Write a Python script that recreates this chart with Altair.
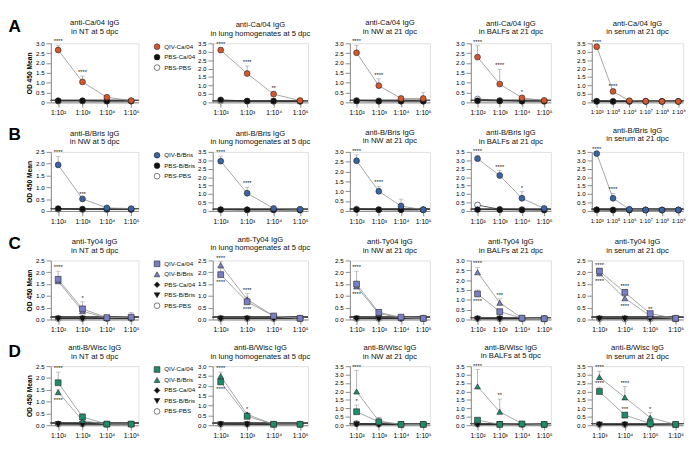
import altair as alt
import pandas as pd

FONT = "Liberation Sans"
CUTOFF = 0.1

X4 = ["1:10²", "1:10³", "1:10⁴", "1:10⁵"]
X6 = ["1:10³", "1:10⁵", "1:10⁶", "1:10⁷", "1:10⁸", "1:10⁹"]
XS = ["1:10³", "1:10⁴", "1:10⁵", "1:10⁶"]

SITES = ["in NT at 5 dpc", "in lung homogenates at 5 dpc", "in NW at 21 dpc",
         "in BALFs at 21 dpc", "in serum at 21 dpc"]
SITES_B = ["in NW at 5 dpc", "in lung homogenates at 5 dpc", "in NW at 21 dpc",
           "in BALFs at 21 dpc", "in serum at 21 dpc"]
SITES_D = ["in NT at 5 dpc", "in lung homogenates at 5 dpc", "in NW at 21 dpc",
           "in BALFs at 5 dpc", "in serum at 21 dpc"]

# ---------------- Row A : anti-Ca/04 IgG ----------------
A_X = [X4, X4, X4, X4, X6]
A_YMAX = [3.0, 3.5, 3.0, 3.0, 3.5]
A_QIV = [[2.66, 1.04, 0.26, 0.09],
         [3.10, 1.71, 0.49, 0.11],
         [2.52, 0.85, 0.20, 0.20],
         [2.30, 0.93, 0.23, 0.10],
         [3.30, 0.65, 0.10, 0.07, 0.06, 0.06]]
A_QIV_ERR = [[0.24, 0.30, 0.04, 0.02],
             [0.15, 0.45, 0.16, 0.02],
             [0.38, 0.35, 0.04, 0.30],
             [0.58, 0.75, 0.12, 0.03],
             [0.06, 0.06, 0.02, 0.01, 0.01, 0.01]]
A_QIV_STARS = [["****", "****", "", ""],
               ["****", "****", "**", ""],
               ["****", "****", "", ""],
               ["****", "****", "*", ""],
               ["****", "****", "", "", "", ""]]
A_PBS = [[0.08, 0.08, 0.07, 0.07],
         [0.15, 0.08, 0.08, 0.07],
         [0.07, 0.06, 0.06, 0.06],
         [0.08, 0.07, 0.06, 0.06],
         [0.07, 0.06, 0.06, 0.06, 0.06, 0.06]]
A_PBSPBS = [[0.07, 0.07, 0.06, 0.06],
            [0.08, 0.07, 0.06, 0.06],
            [0.10, 0.08, 0.07, 0.07],
            [0.17, 0.10, 0.07, 0.06],
            [0.06, 0.05, 0.05, 0.05, 0.05, 0.05]]

# ---------------- Row B : anti-B/Bris IgG ----------------
B_X = [X4, X4, X4, X4, X6]
B_YMAX = [2.5, 3.5, 3.0, 3.5, 3.5]
B_QIV = [[1.95, 0.51, 0.13, 0.10],
         [2.95, 1.05, 0.15, 0.10],
         [2.55, 1.00, 0.25, 0.06],
         [3.10, 2.10, 0.75, 0.15],
         [3.40, 0.75, 0.10, 0.06, 0.06, 0.06]]
B_QIV_ERR = [[0.36, 0.06, 0.03, 0.02],
             [0.30, 0.35, 0.05, 0.02],
             [0.30, 0.25, 0.35, 0.02],
             [0.20, 0.30, 0.40, 0.05],
             [0.06, 0.30, 0.03, 0.01, 0.01, 0.01]]
B_QIV_STARS = [["****", "***", "", ""],
               ["****", "****", "", ""],
               ["****", "****", "", ""],
               ["****", "****", "*", ""],
               ["****", "****", "", "", "", ""]]
B_PBS = [[0.10, 0.08, 0.08, 0.07],
         [0.08, 0.07, 0.07, 0.06],
         [0.07, 0.06, 0.06, 0.06],
         [0.08, 0.07, 0.06, 0.06],
         [0.07, 0.06, 0.06, 0.06, 0.06, 0.06]]
B_PBSPBS = [[0.07, 0.06, 0.06, 0.06],
            [0.07, 0.06, 0.06, 0.06],
            [0.10, 0.07, 0.06, 0.06],
            [0.35, 0.10, 0.08, 0.06],
            [0.06, 0.05, 0.05, 0.05, 0.05, 0.05]]
B_PBSPBS_ERR = [[0, 0, 0, 0], [0, 0, 0, 0], [0, 0, 0, 0],
                [0.15, 0, 0, 0], [0, 0, 0, 0, 0, 0]]

# ---------------- Row C : anti-Ty04 IgG ----------------
C_X = [X4, X4, X4, X4, XS]
C_YMAX = [2.5, 2.5, 2.5, 3.0, 2.5]
C_SQ = [[1.70, 0.45, 0.08, 0.10],
        [1.90, 0.75, 0.15, 0.05],
        [1.50, 0.30, 0.10, 0.05],
        [1.30, 0.40, 0.07, 0.04],
        [2.05, 1.15, 0.25, 0.05]]
C_SQ_ERR = [[0.35, 0.30, 0.03, 0.20],
            [0.25, 0.20, 0.03, 0.02],
            [0.55, 0.10, 0.03, 0.02],
            [0.20, 0.10, 0.02, 0.02],
            [0.10, 0.12, 0.05, 0.02]]
C_SQ_STARS = [["****", "*", "", ""],
              ["****", "****", "", ""],
              ["****", "", "", ""],
              ["****", "***", "", ""],
              ["****", "****", "**", ""]]
C_SQ_POS = ["a", "b", "a", "b", "a"]
C_TRI = [[1.62, 0.35, 0.06, 0.12],
         [2.30, 0.85, 0.15, 0.05],
         [1.40, 0.25, 0.08, 0.05],
         [2.40, 0.85, 0.08, 0.05],
         [1.95, 0.90, 0.15, 0.04]]
C_TRI_ERR = [[0.20, 0.10, 0.02, 0.05],
             [0.15, 0.25, 0.03, 0.02],
             [0.10, 0.10, 0.02, 0.02],
             [0.25, 0.20, 0.02, 0.02],
             [0.05, 0.10, 0.05, 0.02]]
C_TRI_STARS = [["", "", "", ""],
               ["****", "****", "", ""],
               ["****", "", "", ""],
               ["****", "***", "", ""],
               ["****", "****", "", ""]]
C_TRI_POS = ["b", "a", "b", "a", "b"]
C_PBS_CA = [[0.05, 0.05, 0.05, 0.05]] * 5
C_PBS_BR = [[0.04, 0.04, 0.04, 0.04]] * 5
C_PBSPBS = [[0.04, 0.04, 0.04, 0.04]] * 4 + [[0.03, 0.03, 0.03, 0.03]]

# ---------------- Row D : anti-B/Wisc IgG ----------------
D_X = [X4, X4, X4, X4, XS]
D_YMAX = [2.5, 3.0, 3.5, 3.5, 3.5]
D_SQ = [[1.80, 0.35, 0.05, 0.05],
        [2.20, 0.45, 0.05, 0.05],
        [0.80, 0.20, 0.05, 0.05],
        [0.30, 0.05, 0.08, 0.05],
        [2.00, 0.60, 0.10, 0.05]]
D_SQ_ERR = [[0.45, 0.15, 0.02, 0.02],
            [0.20, 0.10, 0.02, 0.02],
            [0.40, 0.25, 0.02, 0.02],
            [0.08, 0.02, 0.02, 0.02],
            [0.25, 0.15, 0.03, 0.02]]
D_SQ_STARS = [["****", "", "", ""],
              ["****", "", "", ""],
              ["*", "", "", ""],
              ["", "", "", ""],
              ["****", "***", "", ""]]
D_SQ_POS = ["a", "b", "a", "a", "a"]
D_TRI = [[1.40, 0.20, 0.04, 0.05],
         [2.50, 0.55, 0.05, 0.05],
         [2.00, 0.25, 0.05, 0.05],
         [2.30, 0.80, 0.10, 0.05],
         [2.85, 1.65, 0.45, 0.05]]
D_TRI_ERR = [[0.10, 0.05, 0.01, 0.01],
             [0.20, 0.10, 0.02, 0.02],
             [1.25, 0.20, 0.02, 0.02],
             [1.00, 0.75, 0.03, 0.02],
             [0.35, 0.65, 0.30, 0.02]]
D_TRI_STARS = [["****", "", "", ""],
               ["****", "*", "", ""],
               ["****", "", "", ""],
               ["****", "**", "", ""],
               ["****", "****", "*", ""]]
D_TRI_POS = ["b", "a", "a", "a", "a"]
D_PBS_CA = [[0.06, 0.05, 0.05, 0.05]] * 4 + [[0.05, 0.05, 0.05, 0.05]]
D_PBS_BR = [[0.05, 0.05, 0.04, 0.04]] * 4 + [[0.04, 0.04, 0.04, 0.04]]
D_PBSPBS = [[0.05, 0.05, 0.04, 0.04], [0.05, 0.05, 0.04, 0.04],
            [0.10, 0.06, 0.05, 0.05], [0.06, 0.05, 0.04, 0.04],
            [0.03, 0.03, 0.03, 0.03]]

WIDTHS = [92, 100, 84, 84, 96]
HEIGHT = 62
LINE_QIV = "#8c8c8c"
LINE_PBS = "#2a2a2a"
ERR_COL = "#a0a0a0"

RES = dict(fill="independent", shape="independent", stroke="independent")


def recs(name, means, errs, stars, pos, xlists, linecol):
    out = []
    for p, vals in enumerate(means):
        for j, v in enumerate(vals):
            e = errs[p][j] if errs else 0.0
            s = stars[p][j] if stars else ""
            out.append(dict(panel=p, idx=j, x=xlists[p][j], series=name, mean=v,
                            hi=v + e, err=e, stars=s,
                            pos=(pos[p] if pos else "a"), linecol=linecol))
    return out


def make_panel(df, p, xlabels, ymax, dom, fills, shapes, title, first,
               zero_plain, width):
    d = df[df.panel == p]
    ticks = [round(0.5 * k, 1) for k in range(int(round(ymax / 0.5)) + 1)]
    lexpr = ("datum.value == 0 ? '0' : format(datum.value, '.1f')" if zero_plain
             else "format(datum.value, '.1f')")
    yaxis = alt.Axis(values=ticks, labelExpr=lexpr,
                     title="OD 450 Mean" if first else None,
                     titleFontSize=7, titleFont=FONT, titleFontWeight="bold",
                     titlePadding=3, labelFontSize=6.5)
    ysc = alt.Scale(domain=[0, ymax], nice=False)
    xfs = 6.0 if len(xlabels) > 4 else 7.0
    xenc = alt.X("x:N", scale=alt.Scale(type="point", domain=xlabels, padding=0.3),
                 axis=alt.Axis(title=None, labelAngle=0, labelPadding=2,
                               labelFontSize=xfs, labelOverlap=False))
    base = alt.Chart(d)
    leg = (alt.Legend(title=None, orient="right", offset=16, labelFontSize=6.5,
                      labelFont=FONT, symbolSize=36, rowPadding=2,
                      labelColor="#111", symbolStrokeWidth=0.6)
           if first else None)

    cut = base.mark_rule(color="#555", strokeWidth=0.6).encode(
        y=alt.datum(CUTOFF, scale=ysc, axis=yaxis))
    lines = base.mark_line(strokeWidth=0.8).encode(
        x=xenc, y=alt.Y("mean:Q", scale=ysc, axis=yaxis),
        detail="series:N", order="idx:Q",
        stroke=alt.Stroke("linecol:N", scale=None))
    err = base.transform_filter("datum.err > 0").mark_rule(
        color=ERR_COL, strokeWidth=0.8).encode(
        x=xenc, y=alt.Y("mean:Q", scale=ysc, axis=yaxis), y2="hi:Q")
    cap = base.transform_filter("datum.err > 0").mark_tick(
        color=ERR_COL, size=5, thickness=0.8).encode(
        x=xenc, y=alt.Y("hi:Q", scale=ysc, axis=yaxis))
    pts = base.mark_point(filled=True, size=38, opacity=1,
                          strokeWidth=0.6).encode(
        x=xenc, y=alt.Y("mean:Q", scale=ysc, axis=yaxis),
        fill=alt.Fill("series:N", scale=alt.Scale(domain=dom, range=fills), legend=leg),
        shape=alt.Shape("series:N", scale=alt.Scale(domain=dom, range=shapes), legend=leg),
        stroke=alt.Stroke("series:N", scale=alt.Scale(domain=dom, range=["#222"] * len(dom)),
                          legend=leg))
    st_a = base.transform_filter("datum.stars != '' && datum.pos == 'a'").mark_text(
        fontSize=6, font=FONT, dy=-1, baseline="bottom", color="#111").encode(
        x=xenc, y=alt.Y("hi:Q", scale=ysc, axis=yaxis), text="stars:N")
    st_b = base.transform_filter("datum.stars != '' && datum.pos == 'b'").mark_text(
        fontSize=6, font=FONT, dy=5, baseline="top", color="#111").encode(
        x=xenc, y=alt.Y("mean:Q", scale=ysc, axis=yaxis), text="stars:N")
    return alt.layer(cut, lines, err, cap, pts, st_a, st_b).properties(
        width=width, height=HEIGHT,
        title=alt.TitleParams(text=title, fontSize=8, font=FONT,
                              fontWeight="normal", offset=3, lineHeight=9,
                              color="#111"))


def make_row(df, xl, ymaxes, dom, fills, shapes, antigen, sites, letter, zero_plain):
    panels = []
    for p in range(5):
        panels.append(make_panel(df, p, xl[p], ymaxes[p], dom, fills, shapes,
                                 [antigen, sites[p]], p == 0, zero_plain,
                                 WIDTHS[p]))
    left = alt.hconcat(panels[0], panels[1], spacing=0).resolve_scale(
        **RES).resolve_legend(**RES)
    return alt.hconcat(left, panels[2], panels[3], panels[4], spacing=24,
                       title=alt.TitleParams(
                           text=letter, orient="left", anchor="end", angle=0,
                           align="right", baseline="top", fontSize=18,
                           fontWeight="bold", font=FONT, color="#000",
                           offset=-8)).resolve_scale(**RES).resolve_legend(**RES)


# Row A
dfA = pd.DataFrame(recs("PBS-PBS", A_PBSPBS, None, None, None, A_X, LINE_PBS)
                   + recs("PBS-Ca/04", A_PBS, None, None, None, A_X, LINE_PBS)
                   + recs("QIV-Ca/04", A_QIV, A_QIV_ERR, A_QIV_STARS, None, A_X, LINE_QIV))
rowA = make_row(dfA, A_X, A_YMAX, ["QIV-Ca/04", "PBS-Ca/04", "PBS-PBS"],
                ["#d4572e", "#111111", "#ffffff"], ["circle", "circle", "circle"],
                "anti-Ca/04 IgG", SITES, "A", True)

# Row B
dfB = pd.DataFrame(recs("PBS-PBS", B_PBSPBS, B_PBSPBS_ERR, None, None, B_X, LINE_PBS)
                   + recs("PBS-B/Bris", B_PBS, None, None, None, B_X, LINE_PBS)
                   + recs("QIV-B/Bris", B_QIV, B_QIV_ERR, B_QIV_STARS, None, B_X, LINE_QIV))
rowB = make_row(dfB, B_X, B_YMAX, ["QIV-B/Bris", "PBS-B/Bris", "PBS-PBS"],
                ["#3b64a3", "#111111", "#ffffff"], ["circle", "circle", "circle"],
                "anti-B/Bris IgG", SITES_B, "B", True)

DOM5 = ["QIV-Ca/04", "QIV-B/Bris", "PBS-Ca/04", "PBS-B/Bris", "PBS-PBS"]
SHAPES5 = ["square", "triangle-up", "diamond", "triangle-down", "circle"]

# Row C
dfC = pd.DataFrame(recs("PBS-PBS", C_PBSPBS, None, None, None, C_X, LINE_PBS)
                   + recs("PBS-B/Bris", C_PBS_BR, None, None, None, C_X, LINE_PBS)
                   + recs("PBS-Ca/04", C_PBS_CA, None, None, None, C_X, LINE_PBS)
                   + recs("QIV-B/Bris", C_TRI, C_TRI_ERR, C_TRI_STARS, C_TRI_POS, C_X, LINE_QIV)
                   + recs("QIV-Ca/04", C_SQ, C_SQ_ERR, C_SQ_STARS, C_SQ_POS, C_X, LINE_QIV))
rowC = make_row(dfC, C_X, C_YMAX, DOM5,
                ["#7a7fc4", "#7a7fc4", "#111111", "#111111", "#ffffff"], SHAPES5,
                "anti-Ty04 IgG", SITES, "C", False)

# Row D
dfD = pd.DataFrame(recs("PBS-PBS", D_PBSPBS, None, None, None, D_X, LINE_PBS)
                   + recs("PBS-B/Bris", D_PBS_BR, None, None, None, D_X, LINE_PBS)
                   + recs("PBS-Ca/04", D_PBS_CA, None, None, None, D_X, LINE_PBS)
                   + recs("QIV-B/Bris", D_TRI, D_TRI_ERR, D_TRI_STARS, D_TRI_POS, D_X, LINE_QIV)
                   + recs("QIV-Ca/04", D_SQ, D_SQ_ERR, D_SQ_STARS, D_SQ_POS, D_X, LINE_QIV))
rowD = make_row(dfD, D_X, D_YMAX, DOM5,
                ["#1f8b6b", "#1f8b6b", "#111111", "#111111", "#ffffff"], SHAPES5,
                "anti-B/Wisc IgG", SITES_D, "D", False)

chart = alt.vconcat(rowA, rowB, rowC, rowD, spacing=10,
                    padding={"left": 0, "top": 0, "right": 2, "bottom": 2}
                    ).resolve_scale(**RES).resolve_legend(**RES).configure_view(
    stroke=None).configure_axis(
    domainColor="#000", domainWidth=1, tickColor="#000", tickSize=3,
    tickWidth=1, labelFont=FONT, labelFontWeight="bold",
    labelColor="#111", grid=False, labelPadding=1).configure(
    background="#ffffff")

chart.save("out.html", embed_options={"renderer": "svg", "actions": False})
